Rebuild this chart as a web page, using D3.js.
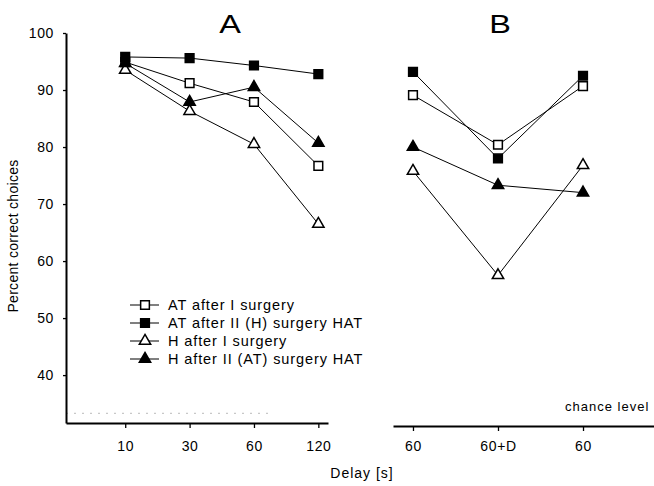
<!doctype html>
<html lang="en">
<head>
  <meta charset="utf-8">
  <title>Percent correct choices</title>
  <script src="https://d3js.org/d3.v7.min.js"></script>
  <style>
    body { margin: 0; background: #fff; }
    svg { font-family: "Liberation Sans", Arial, sans-serif; }
  </style>
</head>
<body>
  <script type="text/javascript">
    // x categories for the two panels
    var delaysA = ["10", "30", "60", "120"];
    var delaysB = ["60", "60+D", "60"];

    // panel A values
    var atFirstA = [94.9, 91.2, 87.9, 76.7];
    var atSecondA = [95.8, 95.6, 94.3, 92.8];
    var hFirstA = [93.5, 86.3, 80.5, 66.5];
    var hSecondA = [94.7, 87.9, 90.5, 80.7];

    // panel B values
    var atFirstB = [89.1, 80.4, 90.7];
    var atSecondB = [93.2, 78.0, 92.5];
    var hFirstB = [75.8, 57.5, 76.8];
    var hSecondB = [80.0, 73.3, 72.0];

    var yTicks = [40, 50, 60, 70, 80, 90, 100];
    var chanceLevel = 33.3;

    var series = [
      { name: "AT after I surgery", shape: "square", fill: "#fff", a: atFirstA, b: atFirstB },
      { name: "AT after II (H) surgery HAT", shape: "square", fill: "#000", a: atSecondA, b: atSecondB },
      { name: "H after I surgery", shape: "triangle", fill: "#fff", a: hFirstA, b: hFirstB },
      { name: "H after II (AT) surgery HAT", shape: "triangle", fill: "#000", a: hSecondA, b: hSecondB }
    ];

    var width = 654;
    var height = 486;

    var svg = d3.select("body")
      .append("svg")
      .attr("width", width)
      .attr("height", height);

    var y = d3.scaleLinear().domain([31.6, 100]).range([423, 33]);
    var xA = d3.scaleLinear().domain([-0.92, 3.15]).range([66, 328]);
    var xB = d3.scaleLinear().domain([-0.235, 2.835]).range([393, 654]);

    function symbolPath(shape) {
      if (shape == "square") {
        return d3.symbol().type(d3.symbolSquare).size(76)();
      }
      return d3.symbol().type(d3.symbolTriangle).size(56)();
    }

    // chance level (faint dotted)
    svg.append("line")
      .attr("x1", xA(-0.92)).attr("x2", xA(2.3))
      .attr("y1", y(chanceLevel)).attr("y2", y(chanceLevel))
      .attr("stroke", "#bbb")
      .attr("stroke-width", 1)
      .attr("stroke-dasharray", "2,6");

    svg.append("text")
      .attr("x", 565)
      .attr("y", y(chanceLevel) - 2)
      .attr("font-size", 13)
      .attr("letter-spacing", 1)
      .text("chance level");

    // y axis
    svg.append("g")
      .attr("transform", "translate(66,0)")
      .call(d3.axisLeft(y).tickValues(yTicks).tickSize(3).tickSizeOuter(0).tickPadding(9));

    // x axis panel A
    svg.append("g")
      .attr("transform", "translate(0,423)")
      .call(d3.axisBottom(xA).tickValues([0, 1, 2, 3]).tickFormat(i => delaysA[i])
        .tickSize(5).tickSizeOuter(0).tickPadding(13));

    // x axis panel B
    svg.append("g")
      .attr("transform", "translate(0,426)")
      .call(d3.axisBottom(xB).tickValues([0, 1, 2]).tickFormat(i => delaysB[i])
        .tickSize(5).tickSizeOuter(0).tickPadding(10));

    svg.selectAll(".domain").attr("stroke-width", 2);
    svg.selectAll(".tick line").attr("stroke-width", 1.3);
    svg.selectAll(".tick text").attr("font-size", 14).attr("fill", "#000")
      .attr("letter-spacing", 0.6)
      .attr("font-family", "Liberation Sans, Arial, sans-serif");

    // axis titles
    svg.append("text")
      .attr("transform", "translate(18,236) rotate(-90)")
      .attr("text-anchor", "middle")
      .attr("font-size", 14)
      .attr("letter-spacing", 0.3)
      .text("Percent correct choices");

    svg.append("text")
      .attr("x", 362).attr("y", 478)
      .attr("text-anchor", "middle")
      .attr("font-size", 14)
      .attr("letter-spacing", 1)
      .text("Delay [s]");

    svg.append("text")
      .attr("transform", "translate(230,33) scale(1.3,1)")
      .attr("text-anchor", "middle")
      .attr("font-size", 25)
      .text("A");

    svg.append("text")
      .attr("transform", "translate(500,33) scale(1.3,1)")
      .attr("text-anchor", "middle")
      .attr("font-size", 25)
      .text("B");

    // lines and markers
    function plotLine(values, x) {
      var line = d3.line()
        .x((d, i) => x(i))
        .y(d => y(d));

      svg.append("path")
        .datum(values)
        .attr("fill", "none")
        .attr("stroke", "#000")
        .attr("stroke-width", 1)
        .attr("d", line);
    }

    function plotMarkers(values, x, s) {
      svg.append("g").selectAll("path")
        .data(values)
        .join("path")
        .attr("transform", (d, i) => "translate(" + x(i) + "," + y(d) + ")")
        .attr("d", symbolPath(s.shape))
        .attr("fill", s.fill)
        .attr("stroke", "#000")
        .attr("stroke-width", 1.5);
    }

    series.forEach(s => {
      plotLine(s.a, xA);
      plotLine(s.b, xB);
    });
    series.forEach(s => {
      plotMarkers(s.a, xA, s);
      plotMarkers(s.b, xB, s);
    });

    // legend
    var legend = svg.append("g")
      .attr("transform", "translate(130,305)");

    series.forEach((s, i) => {
      var row = legend.append("g")
        .attr("transform", "translate(0," + (i * 18) + ")");
      row.append("line")
        .attr("x1", 0).attr("x2", 29)
        .attr("stroke", "#000")
        .attr("stroke-width", 1);
      row.append("path")
        .attr("transform", "translate(15,0)")
        .attr("d", symbolPath(s.shape))
        .attr("fill", s.fill)
        .attr("stroke", "#000")
        .attr("stroke-width", 1.5);
      row.append("text")
        .attr("x", 38)
        .attr("y", 5)
        .attr("font-size", 14.5)
        .attr("letter-spacing", 0.9)
        .text(s.name);
    });
  </script>
</body>
</html>
